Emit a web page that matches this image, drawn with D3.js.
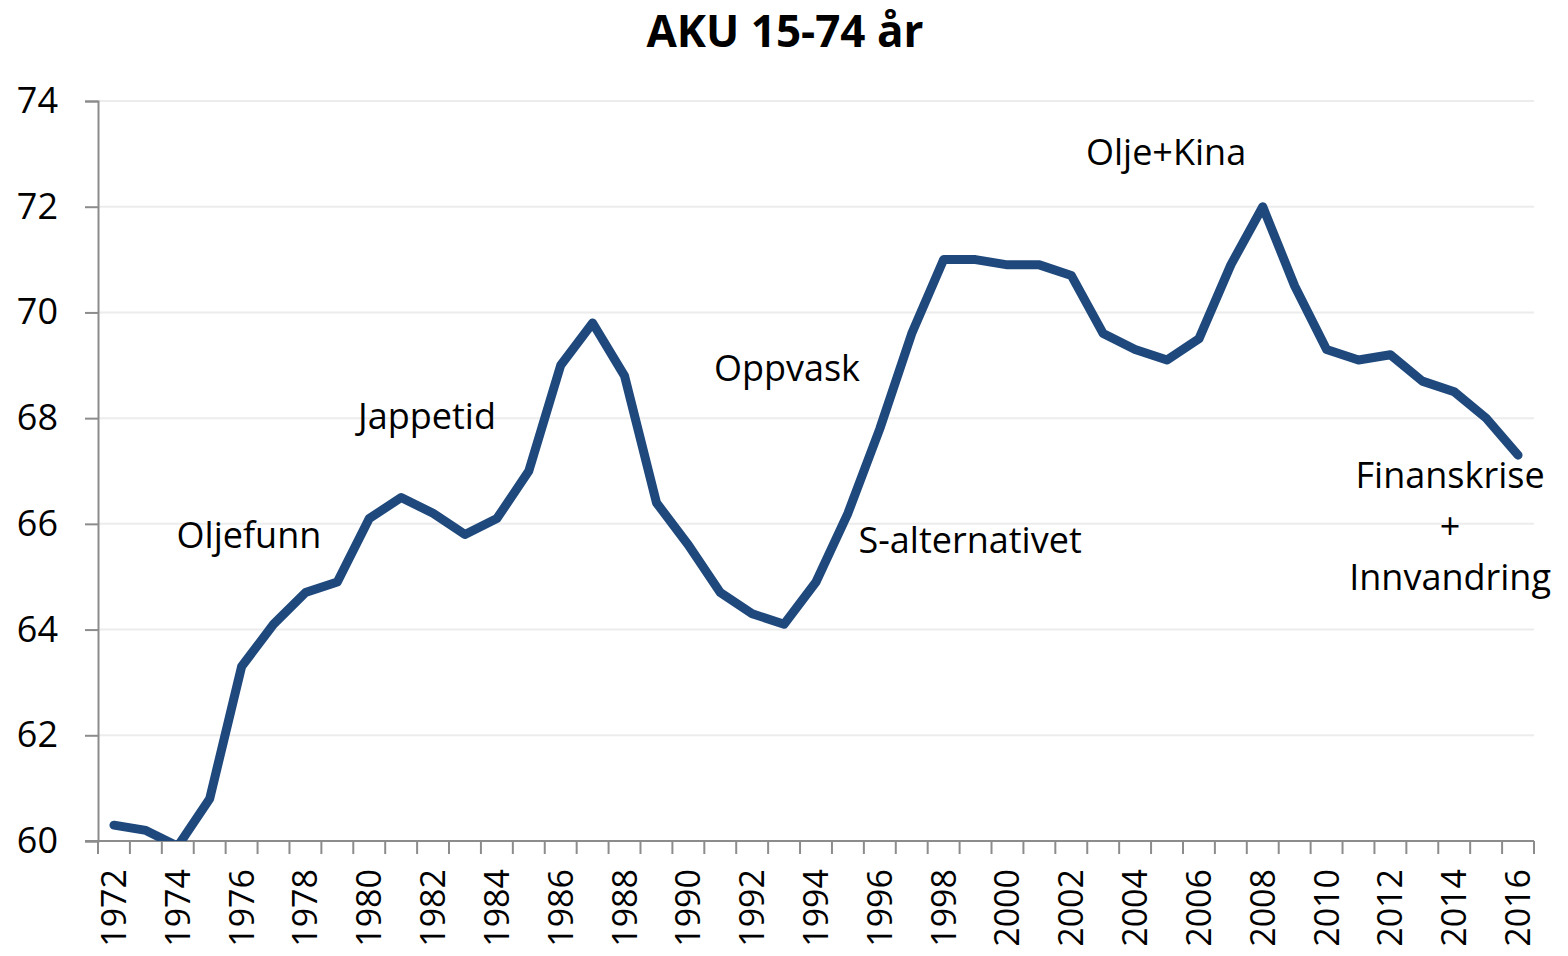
<!DOCTYPE html>
<html>
<head>
<meta charset="utf-8">
<script src="https://cdn.jsdelivr.net/npm/d3@7"></script>
<style>
  body { margin: 0; background: #fff; }
  text { font-family: "Open Sans", "Noto Sans", sans-serif; fill: #000; }
</style>
</head>
<body>
<div id="chart"></div>
<script>
// data
var years = d3.range(1972, 2017);
var values = [60.3, 60.2, 59.9, 60.8, 63.3, 64.1, 64.7, 64.9, 66.1, 66.5,
              66.2, 65.8, 66.1, 67.0, 69.0, 69.8, 68.8, 66.4, 65.6, 64.7,
              64.3, 64.1, 64.9, 66.2, 67.8, 69.6, 71.0, 71.0, 70.9, 70.9,
              70.7, 69.6, 69.3, 69.1, 69.5, 70.9, 72.0, 70.5, 69.3, 69.1,
              69.2, 68.7, 68.5, 68.0, 67.3];
var yTicks = [60, 62, 64, 66, 68, 70, 72, 74];
var notes = [
  {year: 1976.23, value: 65.54, lines: ["Oljefunn"]},
  {year: 1981.81, value: 67.79, lines: ["Jappetid"]},
  {year: 1993.09, value: 68.70, lines: ["Oppvask"]},
  {year: 1998.83, value: 65.45, lines: ["S-alternativet"]},
  {year: 2004.97, value: 72.79, lines: ["Olje+Kina"]},
  {year: 2013.87, value: 66.68, lines: ["Finanskrise", "+", "Innvandring"]}
];

var W = 1568, H = 956;
var margin = {top: 101, right: 34, bottom: 115, left: 98},
    width = W - margin.left - margin.right,
    height = H - margin.top - margin.bottom;

var svg = d3.select("#chart").append("svg")
    .attr("width", W)
    .attr("height", H);

// title
svg.append("text")
    .attr("x", 785)
    .attr("y", 47)
    .attr("text-anchor", "middle")
    .style("font-size", "44px")
    .style("font-weight", "bold")
    .text("AKU 15-74 år");

var g = svg.append("g")
    .attr("transform", "translate(" + margin.left + "," + margin.top + ")");

var x = d3.scaleBand().domain(years).range([0, width]);
var y = d3.scaleLinear().domain([60, 74]).range([height, 0]);
var xc = function(yr) { return x(yr) + x.bandwidth() / 2; };

// gridlines
g.append("g")
  .selectAll("line")
  .data(yTicks.slice(1))
  .join("line")
    .attr("x1", 0)
    .attr("x2", width)
    .attr("y1", function(d) { return y(d); })
    .attr("y2", function(d) { return y(d); })
    .attr("stroke", "#ececec")
    .attr("stroke-width", 2);

// y axis
var yAxis = g.append("g")
    .call(d3.axisLeft(y).tickValues(yTicks).tickSize(13).tickPadding(27));
yAxis.select(".domain").attr("stroke", "#8c8c8c").attr("stroke-width", 2);
yAxis.selectAll(".tick line").attr("stroke", "#8c8c8c").attr("stroke-width", 2);
yAxis.selectAll(".tick text")
    .style("font-size", "36px")
    .attr("font-family", null);

// x axis: ticks on category boundaries, labels every other year
var xg = g.append("g").attr("transform", "translate(0," + height + ")");
xg.append("line")
    .attr("x1", -13).attr("x2", width)
    .attr("stroke", "#8c8c8c").attr("stroke-width", 2);
xg.selectAll(".tk")
  .data(years.concat([null]))
  .join("line")
    .attr("class", "tk")
    .attr("x1", function(d, i) { return i * x.bandwidth(); })
    .attr("x2", function(d, i) { return i * x.bandwidth(); })
    .attr("y1", 0)
    .attr("y2", 13)
    .attr("stroke", "#8c8c8c")
    .attr("stroke-width", 2);
xg.selectAll(".lbl")
  .data(years.filter(function(d) { return d % 2 === 0; }))
  .join("text")
    .attr("class", "lbl")
    .attr("transform", function(d) {
      return "translate(" + (xc(d) + 12) + ",28) rotate(-90)";
    })
    .attr("text-anchor", "end")
    .style("font-size", "34px")
    .text(function(d) { return d; });

// clip to the plot area
g.append("clipPath").attr("id", "plot-clip")
  .append("rect")
    .attr("x", 0).attr("y", -10)
    .attr("width", width + 10).attr("height", height + 10);

var line = d3.line()
    .x(function(d, i) { return xc(years[i]); })
    .y(function(d) { return y(d); });

g.append("path")
    .datum(values)
    .attr("clip-path", "url(#plot-clip)")
    .attr("fill", "none")
    .attr("stroke", "#1f497d")
    .attr("stroke-width", 9)
    .attr("stroke-linejoin", "round")
    .attr("stroke-linecap", "round")
    .attr("d", line);

// annotations
var ax = d3.scaleLinear().domain([1972, 2016]).range([xc(1972), xc(2016)]);
notes.forEach(function(n) {
  var t = g.append("text")
      .attr("text-anchor", "middle")
      .style("font-size", "36px");
  n.lines.forEach(function(s, i) {
    t.append("tspan")
      .attr("x", ax(n.year))
      .attr("y", y(n.value) + i * 51)
      .text(s);
  });
});
</script>
</body>
</html>
